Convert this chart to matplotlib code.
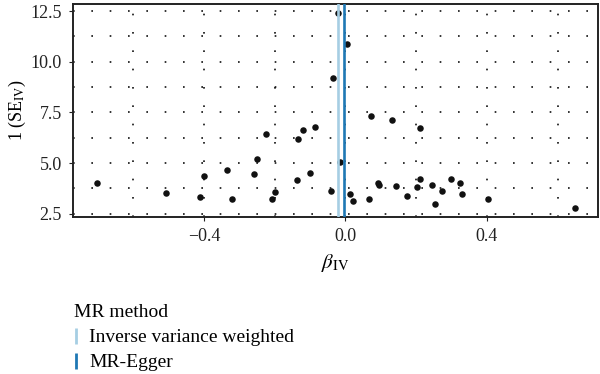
import matplotlib
matplotlib.use("Agg")
import matplotlib.pyplot as plt
from matplotlib.lines import Line2D
from matplotlib.ticker import MultipleLocator

plt.rcParams['font.family'] = ['Liberation Serif', 'DejaVu Serif']
plt.rcParams['mathtext.fontset'] = 'stix'

# beta_IV and 1/SE_IV of each SNP
beta_iv = [-0.702, -0.508, -0.401, -0.411, -0.335, -0.321, -0.259, -0.250, -0.225, -0.209,
           -0.200, -0.134, -0.136, -0.120, -0.085, -0.101, -0.034, -0.022, 0.003, -0.015,
           -0.042, 0.014, 0.020, 0.067, 0.071, 0.092, 0.094, 0.132, 0.144, 0.173,
           0.201, 0.211, 0.212, 0.246, 0.252, 0.272, 0.297, 0.325, 0.328, 0.402,
           0.648]
inv_se = [4.00, 3.53, 4.37, 3.31, 4.66, 3.21, 4.47, 5.19, 6.45, 3.21,
          3.59, 6.21, 4.17, 6.63, 6.79, 4.50, 9.20, 12.40, 10.89, 5.07,
          3.61, 3.46, 3.13, 3.23, 7.30, 4.02, 3.92, 7.12, 3.89, 3.36,
          3.84, 4.23, 6.73, 3.91, 2.96, 3.64, 4.20, 3.99, 3.49, 3.23,
          2.80]

methods = ['Inverse variance weighted', 'MR-Egger']
method_est = [-0.022, -0.005]
method_col = ['#a6cee3', '#1f78b4']

fig = plt.figure(figsize=(6, 3.74), dpi=100)
ax = fig.add_axes([0.1217, 0.4206, 0.8745, 0.5687])

ax.scatter(beta_iv, inv_se, s=22, color='#111111', zorder=3, linewidths=0)
for est, col in zip(method_est, method_col):
    ax.axvline(est, color=col, lw=1.9, zorder=4)

ax.set_xlim(-0.77, 0.713)
ax.set_ylim(2.35, 12.85)
ax.xaxis.set_major_locator(MultipleLocator(0.4))
ax.xaxis.set_minor_locator(MultipleLocator(0.2))
ax.yaxis.set_major_locator(MultipleLocator(2.5))
ax.yaxis.set_minor_locator(MultipleLocator(1.25))
ax.xaxis.set_major_formatter(plt.FuncFormatter(lambda v, p: f'{v:.1f}'.replace('-', '\u2212')))
ax.yaxis.set_major_formatter(plt.FuncFormatter(lambda v, p: f'{v:.1f}'))

# dotted grid on major and minor positions
ax.grid(True, which='both', color='#111111', lw=1.2, linestyle=(0, (1, 10)), zorder=0)
ax.tick_params(which='major', length=3, width=0.8, colors='#222222', labelsize=13,
               labelcolor='#222222', pad=5)
ax.tick_params(which='minor', length=0)
for s in ax.spines.values():
    s.set_linewidth(1.4)
    s.set_color('#222222')

ax.set_xlabel(r'$\beta_{\mathrm{IV}}$', fontsize=15, labelpad=5)
ax.set_ylabel(r'1 (SE$_{\mathrm{IV}}$)', fontsize=13, labelpad=2)

handles = [Line2D([], [], color=c, marker='|', linestyle='none', markersize=12, mew=2) for c in method_col]
leg = fig.legend(handles, methods, title='MR method', loc='upper left', bbox_to_anchor=(0.123, 0.186),
                 frameon=False, fontsize=14, title_fontsize=14, alignment='left',
                 handlelength=0.2, handletextpad=0.6, labelspacing=0.38, borderaxespad=0,
                 borderpad=0)

fig.savefig('out.png', dpi=100)
